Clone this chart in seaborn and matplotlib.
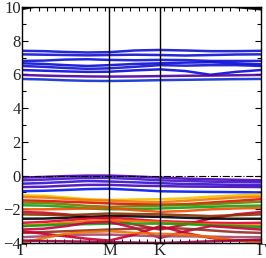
import pandas as pd
import matplotlib
matplotlib.use('Agg')
import matplotlib.pyplot as plt
from matplotlib.ticker import MultipleLocator
import seaborn as sns

# k-path samples (hexagonal BZ: Gamma - M - K - Gamma)
k_path = [0.0, 0.144, 0.289, 0.433, 0.577, 0.744, 0.911, 1.078, 1.244, 1.411, 1.577]
sym_k = [0.0, 0.577, 0.911, 1.577]
sym_labels = ['Γ', 'M', 'K', 'Γ']

# conduction bands
c1 = [7.40, 7.38, 7.33, 7.30, 7.32, 7.42, 7.45, 7.42, 7.38, 7.38, 7.40]
c2 = [7.19, 7.17, 7.15, 7.13, 7.15, 7.17, 7.15, 7.12, 7.15, 7.18, 7.19]
c3 = [6.80, 6.82, 6.88, 6.90, 6.86, 6.84, 6.86, 6.85, 6.80, 6.80, 6.80]
c4 = [6.66, 6.62, 6.55, 6.50, 6.55, 6.62, 6.66, 6.70, 6.72, 6.66, 6.60]
c5 = [6.50, 6.45, 6.38, 6.33, 6.36, 6.45, 6.55, 6.52, 6.55, 6.55, 6.50]
c6 = [6.26, 6.22, 6.18, 6.15, 6.16, 6.24, 6.30, 6.20, 5.98, 6.15, 6.26]
c7 = [5.97, 5.93, 5.90, 5.88, 5.87, 5.88, 5.90, 5.92, 5.93, 5.95, 5.97]
c8 = [5.73, 5.70, 5.65, 5.62, 5.61, 5.63, 5.66, 5.68, 5.70, 5.72, 5.73]

# high bands near top edge
t1 = [9.88, 10.12, 10.5, 10.8, 10.8, 10.8, 10.8, 10.6, 10.3, 10.0, 9.86]
t2 = [9.93, 10.2, 10.6, 10.9, 10.9, 10.9, 10.9, 10.7, 10.4, 10.05, 9.92]

# upper valence bands
v1 = [-0.12, -0.08, -0.03, 0.00, 0.00, -0.05, -0.12, -0.18, -0.22, -0.25, -0.28]
v2 = [-0.28, -0.24, -0.18, -0.14, -0.14, -0.20, -0.28, -0.32, -0.36, -0.38, -0.40]
v3 = [-0.48, -0.44, -0.38, -0.32, -0.35, -0.40, -0.45, -0.50, -0.52, -0.55, -0.56]
v4 = [-0.68, -0.66, -0.60, -0.55, -0.55, -0.60, -0.62, -0.65, -0.66, -0.67, -0.68]
v5 = [-0.93, -0.90, -0.85, -0.80, -0.78, -0.85, -0.93, -0.95, -0.97, -0.98, -1.00]

# lower valence bands
b1 = [-1.17, -1.20, -1.30, -1.40, -1.45, -1.42, -1.40, -1.35, -1.25, -1.18, -1.12]
b2 = [-1.27, -1.30, -1.38, -1.46, -1.48, -1.55, -1.58, -1.50, -1.40, -1.30, -1.25]
b3 = [-1.47, -1.50, -1.55, -1.60, -1.65, -1.70, -1.72, -1.70, -1.60, -1.50, -1.40]
b4 = [-1.60, -1.62, -1.70, -1.80, -1.85, -1.82, -1.78, -1.75, -1.70, -1.62, -1.55]
b5 = [-1.76, -1.78, -1.85, -1.95, -2.00, -1.98, -1.95, -1.90, -1.85, -1.80, -1.78]
b6 = [-2.00, -2.00, -1.98, -1.95, -1.92, -2.05, -2.15, -2.10, -2.00, -1.95, -1.92]
b7 = [-2.16, -2.20, -2.30, -2.45, -2.60, -2.90, -3.20, -2.90, -2.55, -2.30, -2.16]
b8 = [-2.30, -2.32, -2.35, -2.30, -2.25, -2.28, -2.30, -2.35, -2.40, -2.35, -2.30]
b9 = [-2.56, -2.55, -2.50, -2.45, -2.40, -2.42, -2.45, -2.50, -2.55, -2.56, -2.56]
b10 = [-2.80, -2.75, -2.65, -2.55, -2.50, -2.60, -2.70, -2.75, -2.80, -2.82, -2.80]
b11 = [-2.96, -2.90, -2.80, -2.70, -2.65, -2.70, -2.75, -2.85, -2.90, -2.95, -2.96]
b12 = [-3.00, -2.95, -2.90, -2.88, -2.85, -2.85, -2.85, -2.88, -2.95, -3.00, -3.05]
b13 = [-3.20, -3.15, -3.00, -2.80, -2.75, -3.10, -3.70, -3.30, -3.00, -3.10, -3.20]
b14 = [-3.40, -3.35, -3.30, -3.25, -3.20, -3.15, -3.10, -3.15, -3.25, -3.35, -3.40]
b15 = [-3.65, -3.60, -3.55, -3.50, -3.50, -3.55, -3.60, -3.60, -3.62, -3.65, -3.65]
b16 = [-3.30, -3.45, -3.60, -3.75, -3.85, -3.50, -3.00, -3.40, -3.70, -3.85, -3.90]
b17 = [-4.00, -3.70, -3.45, -3.35, -3.30, -3.40, -3.45, -3.50, -3.65, -3.85, -4.00]
b18 = [-3.85, -3.88, -3.90, -3.92, -3.95, -3.97, -4.00, -3.95, -3.90, -3.85, -3.80]

bands = {
    't1': t1, 't2': t2,
    'c1': c1, 'c2': c2, 'c3': c3, 'c4': c4, 'c5': c5, 'c6': c6, 'c7': c7, 'c8': c8,
    'v1': v1, 'v2': v2, 'v3': v3, 'v4': v4, 'v5': v5,
    'b1': b1, 'b2': b2, 'b3': b3, 'b4': b4, 'b5': b5, 'b6': b6, 'b7': b7, 'b8': b8, 'b9': b9,
    'b10': b10, 'b11': b11, 'b12': b12, 'b13': b13, 'b14': b14, 'b15': b15, 'b16': b16,
    'b17': b17, 'b18': b18,
}
colors = {
    't1': '#000000', 't2': '#000000',
    'c1': '#1010d0', 'c2': '#1010d0', 'c3': '#0a10d8', 'c4': '#0a0ad8', 'c5': '#1010d0',
    'c6': '#0a0ad8', 'c7': '#5000a0', 'c8': '#0a30d0',
    'v1': '#5000b8', 'v2': '#4010c8', 'v3': '#3010d0', 'v4': '#4808b8', 'v5': '#0018f0',
    'b1': '#f0c000', 'b2': '#f07800', 'b3': '#e01000', 'b4': '#707800', 'b5': '#10a010',
    'b6': '#f05000', 'b7': '#d00030', 'b8': '#8a3000', 'b9': '#000000', 'b10': '#e00030',
    'b11': '#f07000', 'b12': '#10a010', 'b13': '#c80040', 'b14': '#903020', 'b15': '#a04870',
    'b16': '#c80030', 'b17': '#f07000', 'b18': '#900040',
}

rows = []
for name, vals in bands.items():
    for k, e in zip(k_path, vals):
        rows.append({'band': name, 'k': k, 'E': e})
df = pd.DataFrame(rows)

sns.set_style('ticks')
plt.rcParams['font.family'] = ['Liberation Serif', 'DejaVu Serif']

fig = plt.figure(figsize=(2.66, 2.58), dpi=100)
ax = fig.add_axes([0.083, 0.058, 0.898, 0.915])

sns.lineplot(data=df, x='k', y='E', hue='band', palette=colors, units='band',
             estimator=None, sort=False, legend=False, linewidth=1.8, alpha=0.9, ax=ax)

for k in sym_k[1:-1]:
    ax.axvline(k, color='black', lw=1.0, zorder=3)
ax.axhline(0, color='black', lw=0.8, ls='-.', zorder=3)

ax.set_xlim(sym_k[0], sym_k[-1])
ax.set_ylim(-4, 10)
ax.set_xticks(sym_k)
ax.set_xticklabels(sym_labels)
ax.xaxis.set_minor_locator(MultipleLocator(0.055))
ax.yaxis.set_major_locator(MultipleLocator(2))
ax.yaxis.set_minor_locator(MultipleLocator(1))
ax.set_yticklabels([f'{int(t)}'.replace('-', '\u2212') for t in ax.get_yticks()])
ax.tick_params(which='both', direction='in', top=True, right=True, labelsize=12,
               color='black', width=0.8)
ax.tick_params(axis='y', pad=1)
ax.tick_params(axis='x', pad=0)
ax.tick_params(which='major', length=4)
ax.tick_params(which='minor', length=3)
ax.set_xlabel('')
ax.set_ylabel('')
for s in ax.spines.values():
    s.set_color('black')
    s.set_linewidth(1.0)

plt.savefig('out.png', dpi=100)
plt.close()
